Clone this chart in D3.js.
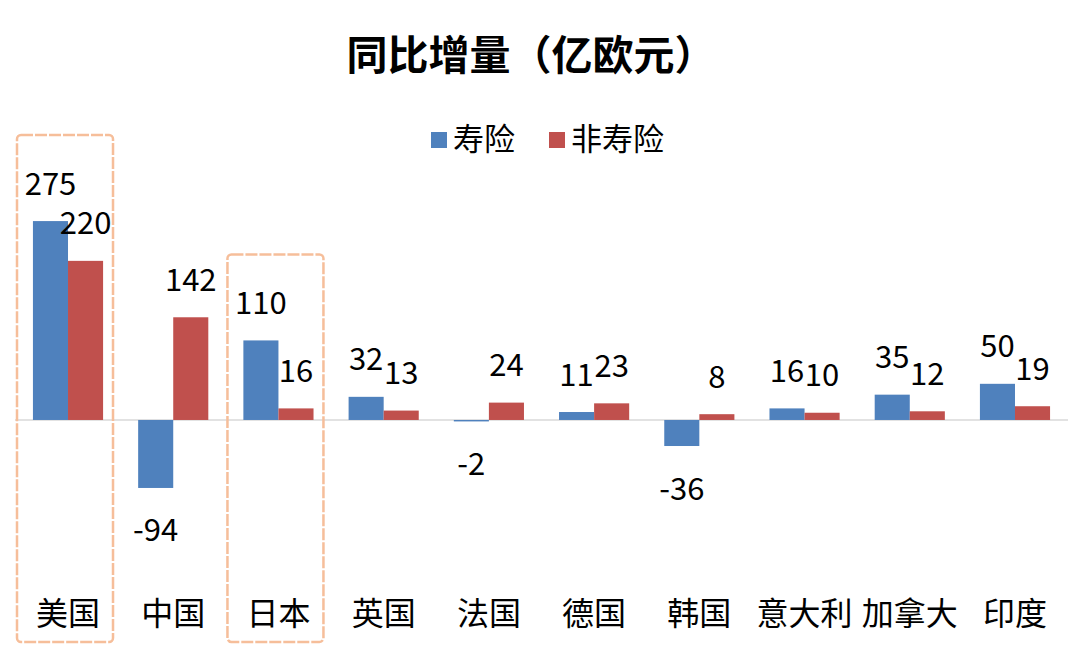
<!DOCTYPE html>
<html>
<head>
<meta charset="utf-8">
<script src="https://cdn.jsdelivr.net/npm/d3@7"></script>
<style>
    body { margin: 0; background: #fff; }
    text { font-family: "Noto Sans CJK SC", "Noto Sans", sans-serif; fill: #000; }
</style>
</head>
<body>
<svg id="chart" width="1080" height="652"></svg>
<script>

// Data

const countries = ["美国", "中国", "日本", "英国", "法国", "德国", "韩国", "意大利", "加拿大", "印度"];
const life = [275, -94, 110, 32, -2, 11, -36, 16, 35, 50];
const nonLife = [220, 142, 16, 13, 24, 23, 8, 10, 12, 19];
const seriesNames = ["寿险", "非寿险"];
const highlighted = ["美国", "日本"];

const colors = { life: "#4F81BD", nonLife: "#C0504D", zero: "#D9D9D9", box: "#F6BE9A" };

const svg = d3.select("#chart");

// Scales

const x = d3.scaleBand()
    .domain(countries)
    .range([15.4, 1067.6])
    .paddingInner(1 / 3)
    .paddingOuter(1 / 6);

const xs = d3.scaleBand()
    .domain(seriesNames)
    .range([0, x.bandwidth()]);

const y = d3.scaleLinear()
    .domain([-100, 300])
    .range([492.3, 203]);

// Title

svg.append("text")
    .attr("x", 531)
    .attr("y", 70)
    .attr("text-anchor", "middle")
    .style("font-size", "41px")
    .style("font-weight", "bold")
    .text("同比增量（亿欧元）");

// Legend

const legend = svg.append("g");
const legendItems = [
    { name: seriesNames[0], color: colors.life, x: 431 },
    { name: seriesNames[1], color: colors.nonLife, x: 549 }
];

legendItems.forEach(d => {
    legend.append("rect")
        .attr("x", d.x)
        .attr("y", 132)
        .attr("width", 16)
        .attr("height", 16)
        .attr("fill", d.color);

    legend.append("text")
        .attr("x", d.x + 22)
        .attr("y", 150)
        .style("font-size", "31px")
        .text(d.name);
});

// Zero line

svg.append("line")
    .attr("x1", 15)
    .attr("x2", 1068)
    .attr("y1", y(0))
    .attr("y2", y(0))
    .attr("stroke", colors.zero)
    .attr("stroke-width", 1.5);

// Bars

const rows = countries.map((c, i) => ({ country: c, values: [
    { key: seriesNames[0], value: life[i], color: colors.life },
    { key: seriesNames[1], value: nonLife[i], color: colors.nonLife }
]}));

const groups = svg.append("g")
    .selectAll("g")
    .data(rows)
    .join("g")
    .attr("transform", d => `translate(${x(d.country)},0)`);

groups.selectAll("rect")
    .data(d => d.values)
    .join("rect")
    .attr("x", d => xs(d.key))
    .attr("width", xs.bandwidth())
    .attr("y", d => y(Math.max(0, d.value)))
    .attr("height", d => Math.abs(y(d.value) - y(0)))
    .attr("fill", d => d.color);

// Value labels

groups.selectAll("text")
    .data(d => d.values)
    .join("text")
    .attr("x", d => xs(d.key) + xs.bandwidth() / 2)
    .attr("y", d => d.value >= 0 ? y(d.value) - 40 : y(d.value) + 40)
    .attr("text-anchor", "middle")
    .attr("dominant-baseline", "central")
    .style("font-size", "31px")
    .text(d => d.value);

// Category labels

svg.append("g")
    .selectAll("text")
    .data(countries)
    .join("text")
    .attr("x", d => x(d) + x.bandwidth() / 2)
    .attr("y", 625)
    .attr("text-anchor", "middle")
    .style("font-size", "32px")
    .text(d => d);

// Highlight boxes

svg.append("g")
    .selectAll("rect")
    .data(highlighted)
    .join("rect")
    .attr("x", d => x(d) + x.bandwidth() / 2 - 51)
    .attr("y", d => {
        const i = countries.indexOf(d);
        return y(Math.max(life[i], nonLife[i])) - 86;
    })
    .attr("width", 96)
    .attr("height", d => {
        const i = countries.indexOf(d);
        return 642 - (y(Math.max(life[i], nonLife[i])) - 86);
    })
    .attr("rx", 4)
    .attr("fill", "none")
    .attr("stroke", colors.box)
    .attr("stroke-width", 2.5)
    .attr("stroke-dasharray", "12,2");

</script>
</body>
</html>
